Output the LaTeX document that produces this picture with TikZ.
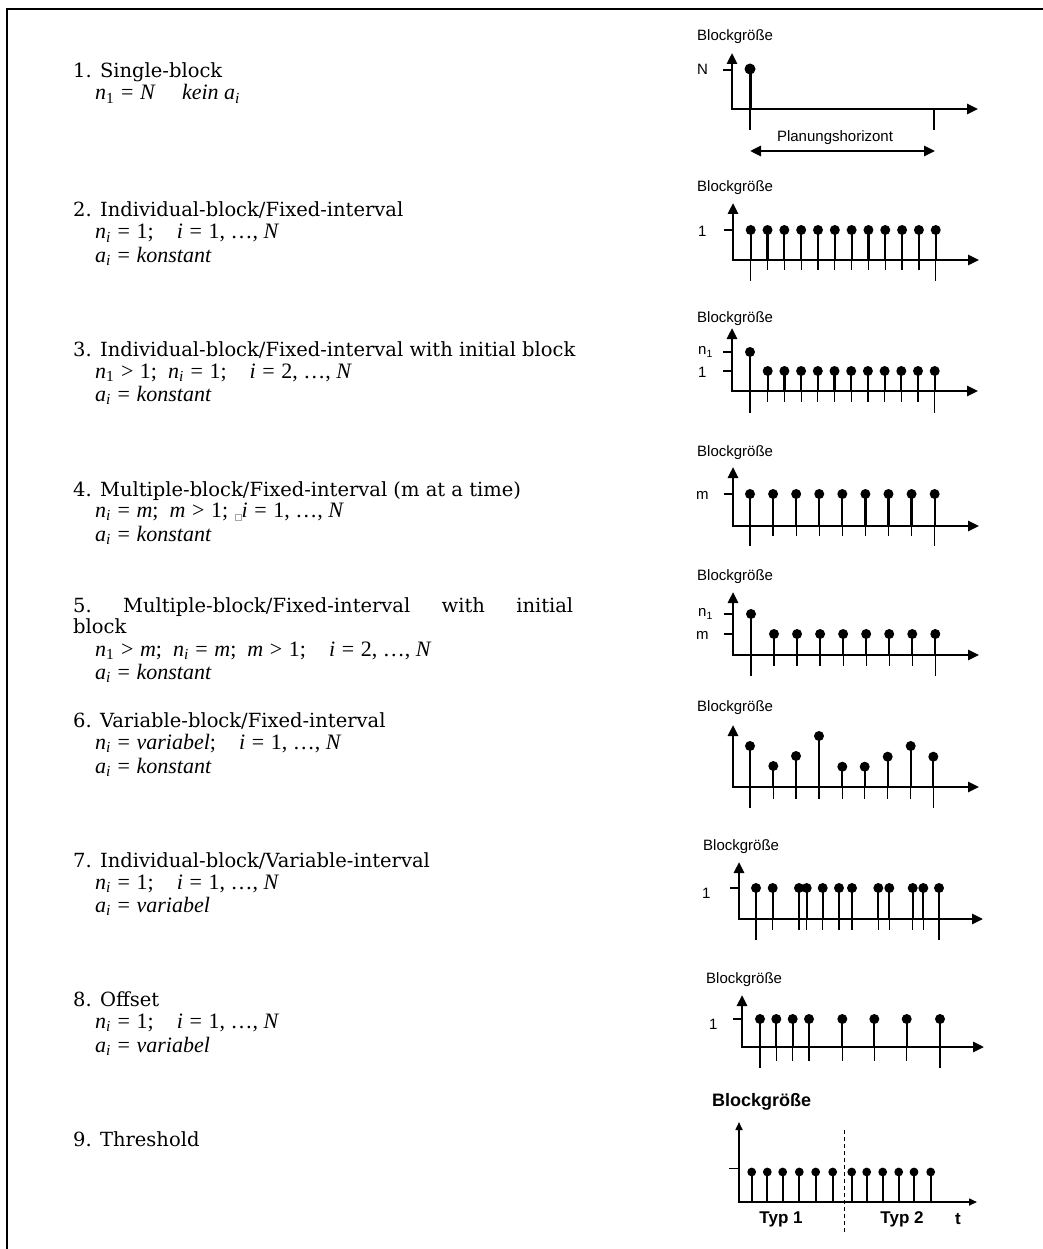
\documentclass[tikz,border=0pt]{standalone}
\usepackage[no-math]{fontspec}
\setmainfont{DejaVu Serif}
\newfontfamily\chartfont{Liberation Sans}
\newfontfamily\mfont{Liberation Serif}
\usetikzlibrary{arrows.meta}
\newcommand\tofubox{\textcolor{gray!70}{\fboxsep=0pt\fboxrule=0.4pt\raisebox{-3pt}{\fbox{\rule{0pt}{6pt}\hspace{6pt}}}}}
\newcommand\mv[1]{\textit{#1}}
\newcommand\sub[1]{\textsubscript{#1}}
\newcommand\gap{\hspace{1.05em}}
\newcommand\sep{\hspace{0.5em}}
\newcommand\eq{\hspace{0.3em}=\hspace{0.3em}}
\newcommand\gt{\hspace{0.3em}>\hspace{0.3em}}
\begin{document}
\begin{tikzpicture}[x=1pt,y=-1pt,
  txt/.style={anchor=base west, inner sep=0pt, font=\fontsize{19.5}{23}\selectfont},
  mth/.style={anchor=base west, inner sep=0pt, font=\mfont\fontsize{22}{25}\selectfont},
  lab/.style={inner sep=0pt, font=\chartfont\fontsize{15}{18}\selectfont},
  blab/.style={inner sep=0pt, font=\chartfont\bfseries\fontsize{17}{20}\selectfont},
  ax/.style={line width=2.6pt, line join=miter, {Triangle[length=11pt,width=10pt]}-{Triangle[length=11pt,width=10pt]}},
  axthin/.style={line width=1.6pt, line join=miter, {Triangle[length=8pt,width=7pt]}-{Triangle[length=8pt,width=7pt]}},
  tk/.style={line width=1.2pt},
  stemline/.style={line width=2.2pt}]
\useasboundingbox (0,0) rectangle (1043,1249);
% frame
\draw[line width=2pt] (7,1249) -- (7,9) -- (1043,9);

% ---------------- left texts ----------------
\node[txt] (t1a) at (73,78) {1. Single-block};
\node[mth] (t1b) at (95,100) {\mv{n}\sub{1}\eq\mv{N}\hspace{1.2em}\mv{kein a}\sub{\mv{i}}};

\node[txt] (t2a) at (73,217) {2. Individual-block/Fixed-interval};
\node[mth] (t2b) at (95,239) {\mv{n}\sub{\mv{i}}\eq 1;\gap\mv{i}\eq 1, …, \mv{N}};
\node[mth] (t2c) at (95,262) {\mv{a}\sub{\mv{i}}\eq\mv{konstant}};

\node[txt] (t3a) at (73,356) {3. Individual-block/Fixed-interval with initial block};
\node[mth] (t3b) at (95,378) {\mv{n}\sub{1}\gt 1;\sep\mv{n}\sub{\mv{i}}\eq 1;\gap\mv{i}\eq 2, …, \mv{N}};
\node[mth] (t3c) at (95,401) {\mv{a}\sub{\mv{i}}\eq\mv{konstant}};

\node[txt] (t4a) at (73,496) {4. Multiple-block/Fixed-interval (m at a time)};
\node[mth] (t4b) at (95,517) {\mv{n}\sub{\mv{i}}\eq\mv{m};\sep\mv{m}\gt 1;\hspace{0.3em}\tofubox\mv{i}\eq 1, …, \mv{N}};
\node[mth] (t4c) at (95,541) {\mv{a}\sub{\mv{i}}\eq\mv{konstant}};

\node[txt] (t5a) at (73,612) {\makebox[500pt][l]{5.\hfill Multiple-block/Fixed-interval\hfill with\hfill initial}};
\node[txt] (t5b) at (73,633) {block};
\node[mth] (t5c) at (95,656) {\mv{n}\sub{1}\gt\mv{m};\sep\mv{n}\sub{\mv{i}}\eq\mv{m};\sep\mv{m}\gt 1;\gap\mv{i}\eq 2, …, \mv{N}};
\node[mth] (t5d) at (95,679) {\mv{a}\sub{\mv{i}}\eq\mv{konstant}};

\node[txt] (t6a) at (73,727) {6. Variable-block/Fixed-interval};
\node[mth] (t6b) at (95,749) {\mv{n}\sub{\mv{i}}\eq\mv{variabel};\gap\mv{i}\eq 1, …, \mv{N}};
\node[mth] (t6c) at (95,773) {\mv{a}\sub{\mv{i}}\eq\mv{konstant}};

\node[txt] (t7a) at (73,867) {7. Individual-block/Variable-interval};
\node[mth] (t7b) at (95,889) {\mv{n}\sub{\mv{i}}\eq 1;\gap\mv{i}\eq 1, …, \mv{N}};
\node[mth] (t7c) at (95,912) {\mv{a}\sub{\mv{i}}\eq\mv{variabel}};

\node[txt] (t8a) at (73,1006) {8. Offset};
\node[mth] (t8b) at (95,1028) {\mv{n}\sub{\mv{i}}\eq 1;\gap\mv{i}\eq 1, …, \mv{N}};
\node[mth] (t8c) at (95,1052) {\mv{a}\sub{\mv{i}}\eq\mv{variabel}};

\node[txt] (t9a) at (73,1146) {9. Threshold};

% ---------------- chart 1 ----------------
\node[lab, anchor=west] (c1l) at (697,37) {Blockgröße};
\node[lab, anchor=west] (c1n) at (697,69) {N};
\draw[ax] (732,53) -- (732,109) -- (978,109);
\draw[tk] (723,70) -- (732,70);
\draw[line width=3pt] (750,69) -- (750,109);
\fill (750,69) circle (5.5);
\draw[tk] (750,109) -- (750,130);
\draw[tk] (934,109) -- (934,130);
\node[lab] (c1p) at (835,138) {Planungshorizont};
\draw[ax] (750,151) -- (935,151);

% ---------------- chart 2 ----------------
\node[lab, anchor=west] (c2l) at (697,188) {Blockgröße};
\node[lab, anchor=west] (c2n) at (698,231) {1};
\draw[ax] (733,203) -- (733,260) -- (979,260);
\draw[tk] (724,230) -- (733,230);
\foreach \k in {0,...,11}{
  \pgfmathsetmacro\xx{750.7+16.82*\k}
  \draw[stemline] (\xx,230) -- (\xx,260);
  \fill (\xx,230) circle (5);
  \draw[tk] (\xx,260) -- (\xx,270);
}
\draw[tk] (750.7,260) -- (750.7,281);
\draw[tk] (935.7,260) -- (935.7,281);

% ---------------- chart 3 ----------------
\node[lab, anchor=west] (c3l) at (697,319) {Blockgröße};
\node[lab, anchor=west] (c3n) at (698,352) {n\textsubscript{1}};
\node[lab, anchor=west] (c3o) at (698,372) {1};
\draw[ax] (732,328) -- (732,391) -- (978,391);
\draw[tk] (723,352) -- (732,352);
\draw[tk] (723,371) -- (732,371);
\draw[stemline] (750,352) -- (750,391);
\fill (750,352) circle (5);
\draw[tk] (750,391) -- (750,413);
\foreach \k in {0,...,10}{
  \pgfmathsetmacro\xx{767.7+16.7*\k}
  \draw[stemline] (\xx,371) -- (\xx,391);
  \fill (\xx,371) circle (5);
  \draw[tk] (\xx,391) -- (\xx,402);
}
\draw[tk] (934.7,391) -- (934.7,413);

% ---------------- chart 4 ----------------
\node[lab, anchor=west] (c4l) at (697,453) {Blockgröße};
\node[lab, anchor=west] (c4n) at (696,495) {m};
\draw[ax] (733,467) -- (733,526) -- (979,526);
\draw[tk] (724,494) -- (733,494);
\foreach \k in {0,...,8}{
  \pgfmathsetmacro\xx{750+23.08*\k}
  \draw[stemline] (\xx,494) -- (\xx,526);
  \fill (\xx,494) circle (5);
  \draw[tk] (\xx,526) -- (\xx,536);
}
\draw[tk] (750,526) -- (750,546);
\draw[tk] (934.7,526) -- (934.7,546);

% ---------------- chart 5 ----------------
\node[lab, anchor=west] (c5l) at (697,577) {Blockgröße};
\node[lab, anchor=west] (c5n) at (698,614) {n\textsubscript{1}};
\node[lab, anchor=west] (c5o) at (696,635) {m};
\draw[ax] (733,592) -- (733,655) -- (979,655);
\draw[tk] (724,614) -- (733,614);
\draw[tk] (724,634) -- (733,634);
\draw[stemline] (751,614) -- (751,655);
\fill (751,614) circle (5);
\draw[tk] (751,655) -- (751,676);
\foreach \k in {0,...,7}{
  \pgfmathsetmacro\xx{774+23.04*\k}
  \draw[stemline] (\xx,634) -- (\xx,655);
  \fill (\xx,634) circle (5);
  \draw[tk] (\xx,655) -- (\xx,666);
}
\draw[tk] (935.3,655) -- (935.3,676);

% ---------------- chart 6 ----------------
\node[lab, anchor=west] (c6l) at (697,708) {Blockgröße};
\draw[ax] (733,725) -- (733,787) -- (979,787);
\foreach \xx/\yy in {750/746, 773.3/766, 796/756, 819/736, 842.3/766.7, 864.7/766.7, 887.7/756.7, 910.7/746, 933.3/756.7}{
  \draw[stemline] (\xx,\yy) -- (\xx,787);
  \fill (\xx,\yy) circle (5);
  \draw[tk] (\xx,787) -- (\xx,799);
}
\draw[tk] (750,787) -- (750,808);
\draw[tk] (933.3,787) -- (933.3,808);

% ---------------- chart 7 ----------------
\node[lab, anchor=west] (c7l) at (703,847) {Blockgröße};
\node[lab, anchor=west] (c7n) at (702,893) {1};
\draw[ax] (739,862) -- (739,919) -- (983,919);
\draw[tk] (730,888) -- (739,888);
\foreach \xx in {756, 772.7, 799, 806.7, 822.7, 839, 852, 878.3, 889.3, 912.7, 923.3, 939}{
  \draw[stemline] (\xx,888) -- (\xx,919);
  \fill (\xx,888) circle (5);
  \draw[tk] (\xx,919) -- (\xx,930);
}
\draw[tk] (756,919) -- (756,940);
\draw[tk] (939,919) -- (939,940);

% ---------------- chart 8 ----------------
\node[lab, anchor=west] (c8l) at (706,980) {Blockgröße};
\node[lab, anchor=west] (c8n) at (709,1024) {1};
\draw[ax] (742,995) -- (742,1047) -- (984,1047);
\draw[tk] (733,1019) -- (742,1019);
\foreach \xx in {760, 776.3, 792.7, 809, 842.3, 874.3, 906.7, 940}{
  \draw[stemline] (\xx,1019) -- (\xx,1047);
  \fill (\xx,1019) circle (5);
  \draw[tk] (\xx,1047) -- (\xx,1061);
}
\draw[tk] (760,1047) -- (760,1068);
\draw[tk] (940,1047) -- (940,1068);

% ---------------- chart 9 ----------------
\node[blab, anchor=west, font=\chartfont\bfseries\fontsize{18}{21}\selectfont] (c9l) at (712,1102) {Blockgröße};
\draw[axthin] (739,1122) -- (739,1202) -- (977,1202);
\draw[line width=1pt] (729,1168) -- (739,1168);
\foreach \xx in {751.7, 767.3, 782.7, 799.3, 815.7, 832.7, 851.7, 866.7, 882.7, 898.7, 914, 930.7}{
  \draw[line width=1.8pt] (\xx,1172) -- (\xx,1202);
  \fill (\xx,1172) circle (4.4);
}
\draw[line width=0.9pt, dashed, dash pattern=on 4pt off 3pt] (844,1130) -- (844,1233);
\node[blab] (c9a) at (781,1219) {Typ 1};
\node[blab] (c9b) at (902,1219) {Typ 2};
\node[blab] (c9t) at (958,1219) {t};
\end{tikzpicture}
\end{document}
